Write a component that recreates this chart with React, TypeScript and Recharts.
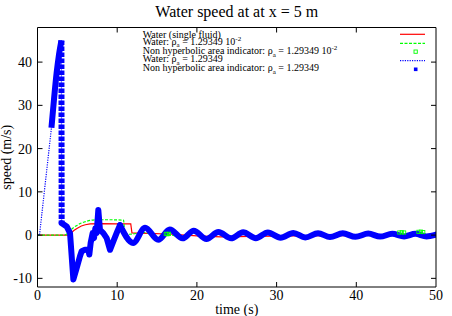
import React from 'react';
import { LineChart, Line, XAxis, YAxis, Legend, Label } from 'recharts';

const W = 452;
const H = 316;

const xTicks = [0, 10, 20, 30, 40, 50];
const yTicks = [-10, 0, 10, 20, 30, 40];
const xDomain = [0, 50];
const yDomain = [-12, 48];

// Water (single fluid) - red
const singleTime = [0, 3.8, 4.2, 4.6, 5.0, 5.5, 6.0, 6.6, 8.0, 10.0, 11.7, 11.85, 14, 17, 20, 23, 27, 32, 38, 44, 50];
const singleSpeed = [0, 0, 0.5, 1.1, 1.6, 2.1, 2.4, 2.6, 2.65, 2.6, 2.6, 0.5, 0.4, 0.2, -0.2, -0.4, -0.3, -0.2, -0.1, 0, 0.1];

// Water rho_a = 1.29349e-2 - green dashed
const lightTime = [0, 3.4, 4.0, 4.5, 5.0, 5.5, 6.0, 6.6, 7.5, 9.0, 10.8, 10.95, 11.5, 13.5, 15.15, 16.3, 18.2, 19.6, 21.2, 22.7, 24.3, 25.8, 27.4, 28.9, 30.5, 32.1, 33.6, 35.2, 36.7, 38.3, 39.9, 41.5, 43.0, 44.5, 46.0, 47.6, 48.8, 50];
const lightSpeed = [0, 0, 0.9, 1.7, 2.3, 2.8, 3.1, 3.4, 3.55, 3.55, 3.45, 0.4, 0.2, 0.6, -0.6, 0.1, -0.5, 0.6, -0.6, 0.5, -0.5, 0.4, -0.4, 0.4, -0.4, 0.35, -0.35, 0.3, -0.3, 0.3, -0.3, 0.3, -0.25, 0.4, -0.1, 0.7, 0.1, 0.3];

// Non hyperbolic area indicator rho_a = 1.29349e-2 - green hollow squares
const lightFlagTime = [16.1, 16.3, 16.5, 45.4, 45.7, 46.0, 47.8, 48.1, 48.4];
const lightFlagSpeed = [0.3, 0.2, 0.3, 0.6, 0.65, 0.6, 0.75, 0.8, 0.7];

// Water rho_a = 1.29349 - blue dotted (start)
const heavyStartTime = [0, 0.25, 1.75];
const heavyStartSpeed = [0, 0, 24.8];

// Non hyperbolic area indicator rho_a = 1.29349 - blue squares
const riseTime = [1.75, 2.1, 2.4, 2.7, 3.0];
const riseSpeed = [24.8, 32, 37.5, 41.8, 45];
const dropTime = [3.0, 3.03];
const dropSpeed = [45, 2.75];
const jagTime = [3.03, 3.1, 3.66, 4.08, 4.5, 4.92, 5.33, 5.54, 5.96, 6.38, 6.5, 6.67, 6.92, 7.09, 7.26, 7.42, 7.63, 7.84, 8.26, 8.68, 9.1, 9.5, 10.0, 10.35];
const jagSpeed = [2.75, 2.7, 2.0, 0.45, -10.25, -7.6, -4.9, -3.75, -3.4, -3.4, -4.5, -1.8, 0.45, -0.7, 1.6, 0.45, 5.8, 1.2, 0.45, -0.7, -3.4, -1.5, 0.8, 2.3];
const waveTime = [10.35, 12.0, 13.5, 15.15, 16.6, 18.2, 19.6, 21.2, 22.7, 24.3, 25.8, 27.4, 28.9, 30.5, 32.1, 33.6, 35.2, 36.7, 38.3, 39.9, 41.5, 43.0, 44.5, 46.0, 47.4, 48.8, 50];
const waveSpeed = [2.3, -1.8, 1.7, -1.1, 1.3, -0.75, 1.0, -0.9, 0.7, -0.75, 0.65, -0.7, 0.6, -0.6, 0.5, -0.55, 0.45, -0.45, 0.4, -0.4, 0.35, -0.35, 0.3, -0.3, 0.3, -0.3, 0.1];

const toPts = (ts: number[], vs: number[]) => ts.map((t, i) => ({ t, v: vs[i] }));

const singleData = toPts(singleTime, singleSpeed);
const lightData = toPts(lightTime, lightSpeed);
const lightFlagData = toPts(lightFlagTime, lightFlagSpeed);
const heavyData = toPts(
  [...heavyStartTime, ...riseTime.slice(1), ...dropTime.slice(1), ...jagTime.slice(1), ...waveTime.slice(1)],
  [...heavyStartSpeed, ...riseSpeed.slice(1), ...dropSpeed.slice(1), ...jagSpeed.slice(1), ...waveSpeed.slice(1)]
);
const riseData = toPts(riseTime, riseSpeed);
const dropData = toPts(dropTime, dropSpeed);
const jagData = toPts(jagTime, jagSpeed);
const waveData = toPts(waveTime, waveSpeed);

const RED = '#ff0000';
const GREEN = '#00ff00';
const BLUE = '#0000ff';
const FONT = '"Liberation Serif", "Times New Roman", serif';

// frame geometry (px)
const MARGIN = { top: 26.5, right: 15, bottom: 28, left: 36.5 };
const PLOT_LEFT = MARGIN.left + 1;
const PLOT_RIGHT = W - MARGIN.right - 1;
const PLOT_TOP = MARGIN.top + 1;
const PLOT_BOTTOM = H - MARGIN.bottom - 1;
const TICK = 5;

const HollowSquare = (p: any) => (
  <rect key={`g${p.index}`} x={p.cx - 1.6} y={p.cy - 1.6} width={3.2} height={3.2} fill="none" stroke={GREEN} strokeWidth={0.9} />
);

// bottom tick: label plus inward tick marks on bottom and top borders
const XTick = (p: any) => {
  const v = p.payload.value;
  const edge = v === xDomain[0] || v === xDomain[1];
  return (
    <g>
      {!edge && <line x1={p.x} x2={p.x} y1={PLOT_BOTTOM} y2={PLOT_BOTTOM - TICK} stroke="#000" strokeWidth={1} />}
      {!edge && <line x1={p.x} x2={p.x} y1={PLOT_TOP} y2={PLOT_TOP + TICK} stroke="#000" strokeWidth={1} />}
      <text x={p.x} y={p.y + 9.9} textAnchor="middle" fontSize={14} fontFamily={FONT} fill="#000">
        {v}
      </text>
    </g>
  );
};
// left tick: label plus inward tick marks on left and right borders
const YTick = (p: any) => (
  <g>
    <line x1={PLOT_LEFT} x2={PLOT_LEFT + TICK} y1={p.y} y2={p.y} stroke="#000" strokeWidth={1} />
    <line x1={PLOT_RIGHT} x2={PLOT_RIGHT - TICK} y1={p.y} y2={p.y} stroke="#000" strokeWidth={1} />
    <text x={p.x} y={p.y + 5} textAnchor="end" fontSize={14} fontFamily={FONT} fill="#000">
      {p.payload.value}
    </text>
  </g>
);

const renderLegend = () => {
  const tx = 142.7;
  const sx1 = 400;
  const sx2 = 425;
  return (
    <div style={{ position: 'relative', width: 0, height: 0 }}>
      <svg width={W} height={H} style={{ position: 'absolute', left: 0, top: 0, overflow: 'visible', pointerEvents: 'none' }}>
        <g fontFamily={FONT} fontSize={10} fill="#000">
          <text x={tx} y={37.7}>Water (single fluid)</text>
          <text x={tx} y={44.6}>
            Water: ρ<tspan dy={2.5} fontSize={7}>a</tspan>
            <tspan dy={-2.5}> = 1.29349 10</tspan>
            <tspan dy={-4} fontSize={7}>-2</tspan>
          </text>
          <text x={tx} y={54.3}>
            Non hyperbolic area indicator: ρ<tspan dy={2.5} fontSize={7}>a</tspan>
            <tspan dy={-2.5}> = 1.29349 10</tspan>
            <tspan dy={-4} fontSize={7}>-2</tspan>
          </text>
          <text x={tx} y={62.3}>
            Water: ρ<tspan dy={2.5} fontSize={7}>a</tspan>
            <tspan dy={-2.5}> = 1.29349</tspan>
          </text>
          <text x={tx} y={71}>
            Non hyperbolic area indicator: ρ<tspan dy={2.5} fontSize={7}>a</tspan>
            <tspan dy={-2.5}> = 1.29349</tspan>
          </text>
        </g>
        <line x1={sx1} x2={sx2} y1={34.3} y2={34.3} stroke={RED} strokeWidth={1.2} />
        <line x1={sx1} x2={sx2} y1={43.3} y2={43.3} stroke={GREEN} strokeWidth={1.2} strokeDasharray="3 1.5" />
        <rect x={414} y={50} width={3.3} height={3.3} fill="none" stroke={GREEN} strokeWidth={0.9} />
        <line x1={sx1} x2={sx2} y1={60.7} y2={60.7} stroke={BLUE} strokeWidth={1.2} strokeDasharray="1.2 1.2" />
        <rect x={413.9} y={67.5} width={3.6} height={3.6} fill={BLUE} />
      </svg>
    </div>
  );
};

export default function App() {
  return (
    <div style={{ position: 'absolute', left: 0, top: 0, width: W, height: H, background: '#fff', fontFamily: FONT }}>
      <LineChart width={W} height={H} margin={MARGIN}>
        <XAxis
          xAxisId="b"
          dataKey="t"
          type="number"
          domain={xDomain}
          ticks={xTicks}
          interval={0}
          height={1}
          tickSize={-5}
          tickMargin={8.5}
          stroke="#000"
          tickLine={false}
          tick={<XTick />}
          allowDataOverflow
        >
          <Label
            content={(props: any) => {
              const vb = props.viewBox || {};
              return (
                <text x={vb.x + vb.width / 2} y={313.5} textAnchor="middle" fontSize={14} fontFamily={FONT} fill="#000">
                  time (s)
                </text>
              );
            }}
          />
        </XAxis>
        <XAxis
          xAxisId="top"
          dataKey="t"
          type="number"
          orientation="top"
          domain={xDomain}
          ticks={xTicks}
          interval={0}
          height={1}
          stroke="#000"
          tickLine={false}
          tick={false}
          allowDataOverflow
        >
          <Label
            content={(props: any) => {
              const vb = props.viewBox || {};
              return (
                <text x={vb.x + vb.width / 2} y={17.3} textAnchor="middle" fontSize={16} fontFamily={FONT} fill="#000">
                  Water speed at at x = 5 m
                </text>
              );
            }}
          />
        </XAxis>
        <YAxis
          yAxisId="l"
          type="number"
          domain={yDomain}
          ticks={yTicks}
          interval={0}
          width={1}
          tickSize={-5}
          tickMargin={10.5}
          stroke="#000"
          tickLine={false}
          tick={<YTick />}
          allowDataOverflow
        >
          <Label
            content={(props: any) => {
              const vb = props.viewBox || {};
              const cx = 11;
              const cy = vb.y + vb.height / 2;
              return (
                <text x={cx} y={cy} textAnchor="middle" fontSize={14} fontFamily={FONT} fill="#000" transform={`rotate(-90, ${cx}, ${cy})`}>
                  speed (m/s)
                </text>
              );
            }}
          />
        </YAxis>
        <YAxis
          yAxisId="r"
          type="number"
          orientation="right"
          domain={yDomain}
          ticks={yTicks}
          interval={0}
          width={1}
          stroke="#000"
          tickLine={false}
          tick={false}
          allowDataOverflow
        />
        <Legend content={renderLegend} wrapperStyle={{ left: 0, top: 0, width: 0, height: 0 }} />
        <Line xAxisId="top" yAxisId="r" data={singleData} dataKey="v" type="linear" stroke="none" dot={false} activeDot={false} legendType="none" isAnimationActive={false} />
        <Line xAxisId="b" yAxisId="l" data={singleData} dataKey="v" type="linear" stroke={RED} strokeWidth={1.2} dot={false} activeDot={false} isAnimationActive={false} />
        <Line xAxisId="b" yAxisId="l" data={lightData} dataKey="v" type="monotone" stroke={GREEN} strokeWidth={1.2} strokeDasharray="3 1.5" dot={false} activeDot={false} isAnimationActive={false} />
        <Line xAxisId="b" yAxisId="l" data={lightFlagData} dataKey="v" stroke="none" dot={HollowSquare} activeDot={false} isAnimationActive={false} />
        <Line xAxisId="b" yAxisId="l" data={heavyData} dataKey="v" type="linear" stroke={BLUE} strokeWidth={1.2} strokeDasharray="1.2 1.2" dot={false} activeDot={false} isAnimationActive={false} />
        <Line xAxisId="b" yAxisId="l" data={riseData} dataKey="v" type="monotone" stroke={BLUE} strokeWidth={6} strokeLinejoin="round" dot={false} activeDot={false} isAnimationActive={false} />
        <Line xAxisId="b" yAxisId="l" data={dropData} dataKey="v" type="linear" stroke={BLUE} strokeWidth={6} strokeDasharray="4.5 1.5" dot={false} activeDot={false} isAnimationActive={false} />
        <Line xAxisId="b" yAxisId="l" data={jagData} dataKey="v" type="linear" stroke={BLUE} strokeWidth={6} strokeLinejoin="round" strokeLinecap="round" dot={false} activeDot={false} isAnimationActive={false} />
        <Line xAxisId="b" yAxisId="l" data={waveData} dataKey="v" type="monotone" stroke={BLUE} strokeWidth={6} strokeLinejoin="round" strokeLinecap="round" dot={false} activeDot={false} isAnimationActive={false} />
      </LineChart>
    </div>
  );
}
